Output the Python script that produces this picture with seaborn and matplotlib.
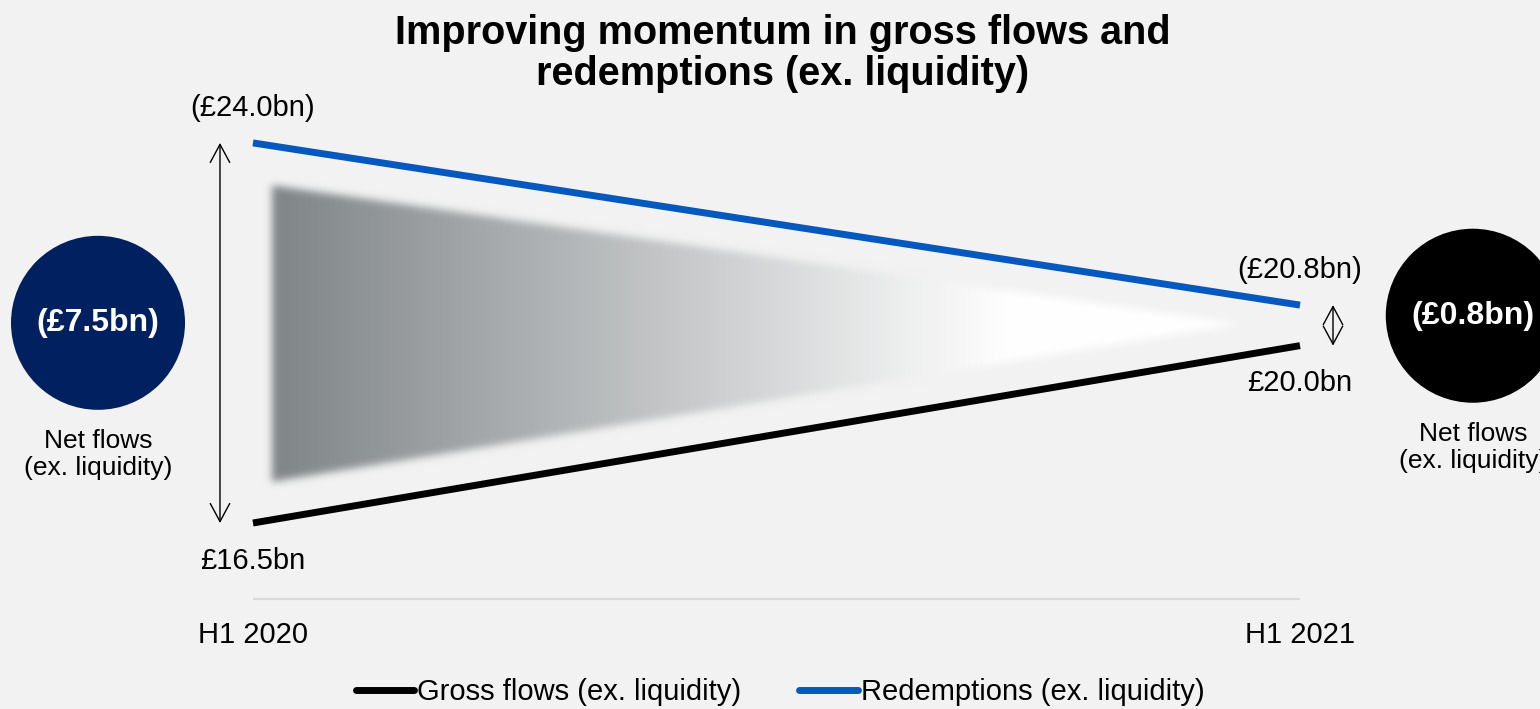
import numpy as np
import pandas as pd
import matplotlib
matplotlib.use("Agg")
import matplotlib.pyplot as plt
from matplotlib.lines import Line2D
import seaborn as sns

# ---- data -------------------------------------------------------------
periods = ["H1 2020", "H1 2021"]
gross_flows = [16.5, 20.0]          # £bn inflows
redemptions = [24.0, 20.8]          # £bn outflows
series_names = ["Gross flows (ex. liquidity)", "Redemptions (ex. liquidity)"]
net_label = "Net flows\n(ex. liquidity)"
title = "Improving momentum in gross flows and\nredemptions (ex. liquidity)"

net_flows = [g - r for g, r in zip(gross_flows, redemptions)]


def money(v):
    return f"£{v:.1f}bn" if v >= 0 else f"(£{-v:.1f}bn)"


# ---- style ------------------------------------------------------------
BG = "#f2f2f2"
BLUE = "#0558bd"
NAVY = "#002060"
sns.set_theme(style="white")
plt.rcParams["font.family"] = ["Liberation Sans", "DejaVu Sans"]
plt.rcParams["figure.facecolor"] = BG
plt.rcParams["axes.facecolor"] = BG
plt.rcParams["text.color"] = "black"

fig = plt.figure(figsize=(15.4, 7.09), dpi=100)
ax = fig.add_axes([0, 0, 1, 1])
ax.set_xlim(-0.2416, 1.2292)
ax.set_ylim(12.83, 26.82)
ax.set_axis_off()

pos = list(range(len(periods)))
df = pd.DataFrame({
    "pos": pos * 2,
    "value": gross_flows + redemptions,
    "series": [series_names[0]] * len(pos) + [series_names[1]] * len(pos),
})
palette = {series_names[0]: "black", series_names[1]: BLUE}
sns.lineplot(data=df, x="pos", y="value", hue="series", palette=palette,
             linewidth=5, legend=False, ax=ax, zorder=4)
for ln in ax.lines:
    ln.set_solid_capstyle("butt")

# ---- soft tapering wedge between the two lines ------------------------
xl, xt, xw = 0.018, 0.943, 0.72       # left edge, tip, where it turns white
top_l, bot_l, tip_v = 23.17, 17.31, 20.43
x0, x1, v0, v1 = -0.02, 0.98, 16.6, 23.9
nx, ny = 1047, 370
X, V = np.meshgrid(np.linspace(x0, x1, nx), np.linspace(v0, v1, ny))
frac = (X - xl) / (xt - xl)
top = top_l + (tip_v - top_l) * frac
bot = bot_l + (tip_v - bot_l) * frac
mask = ((X >= xl) & (X <= xt) & (V <= top) & (V >= bot)).astype(float)


def blur(a, sigma):
    r = int(3 * sigma) + 1
    k = np.exp(-0.5 * (np.arange(-r, r + 1) / sigma) ** 2)
    k /= k.sum()
    a = np.apply_along_axis(lambda m: np.convolve(m, k, mode="same"), 0, a)
    return np.apply_along_axis(lambda m: np.convolve(m, k, mode="same"), 1, a)


alpha = blur(mask, 4.0)
t = np.clip((X - xl) / (xw - xl), 0, 1)
gray = np.array([0.50, 0.52, 0.53])
rgba = np.zeros((ny, nx, 4))
for c in range(3):
    rgba[..., c] = gray[c] + (1 - gray[c]) * t
rgba[..., 3] = alpha
ax.imshow(rgba, extent=[x0, x1, v0, v1], origin="lower", aspect="auto",
          interpolation="bilinear", zorder=1)

# ---- baseline and period labels ---------------------------------------
base = 15.0
ax.hlines(base, pos[0], pos[-1], color="#d9d9d9", lw=1.5, zorder=2)
for p, lab in zip(pos, periods):
    ax.annotate(lab, (p, base), xytext=(0, -26), textcoords="offset points",
                ha="center", va="center", fontsize=21)

# ---- end-point value labels -------------------------------------------
for p, g, r in zip(pos, gross_flows, redemptions):
    ax.annotate(money(-r), (p, r), xytext=(0, 25), textcoords="offset points",
                ha="center", va="center", fontsize=21)
    ax.annotate(money(g), (p, g), xytext=(0, -27), textcoords="offset points",
                ha="center", va="center", fontsize=21)

# ---- double-headed gap arrows -----------------------------------------
gap = 0.0315
for p, g, r, side in zip(pos, gross_flows, redemptions, (-1, 1)):
    ax.annotate("", xy=(p + side * gap, g), xytext=(p + side * gap, r),
                arrowprops=dict(arrowstyle="<->,head_length=0.65,head_width=0.35",
                                mutation_scale=20, color="black", lw=1,
                                shrinkA=0, shrinkB=0), zorder=3)

# ---- net-flow bubbles -------------------------------------------------
bubble_x = [-0.148, 1.165]
bubble_y = [20.45, 20.59]
bubble_c = [NAVY, "black"]
ax.scatter(bubble_x, bubble_y, s=15700, c=bubble_c, linewidths=0, zorder=5)
for bx, by, n in zip(bubble_x, bubble_y, net_flows):
    ax.text(bx, by, money(n), ha="center", va="center", fontsize=23,
            fontweight="bold", color="white", zorder=6)
    ax.annotate(net_label, (bx, by), xytext=(0, -95), textcoords="offset points",
                ha="center", va="center", fontsize=19, linespacing=1.15)

# ---- title and legend -------------------------------------------------
fig.text(783 / 1540, 1 - 53.5 / 709, title, ha="center", va="center",
         fontsize=28.5, fontweight="bold", linespacing=1.08)

handles = [Line2D([], [], color=palette[s], lw=5, solid_capstyle="round")
           for s in series_names]
fig.legend(handles, series_names, loc="center", ncol=2, frameon=False,
           bbox_to_anchor=(780 / 1540, 1 - 692 / 709), fontsize=21,
           handlelength=2.0, handletextpad=0.1, columnspacing=2.0)

fig.savefig("out.png", dpi=100, facecolor=BG)
